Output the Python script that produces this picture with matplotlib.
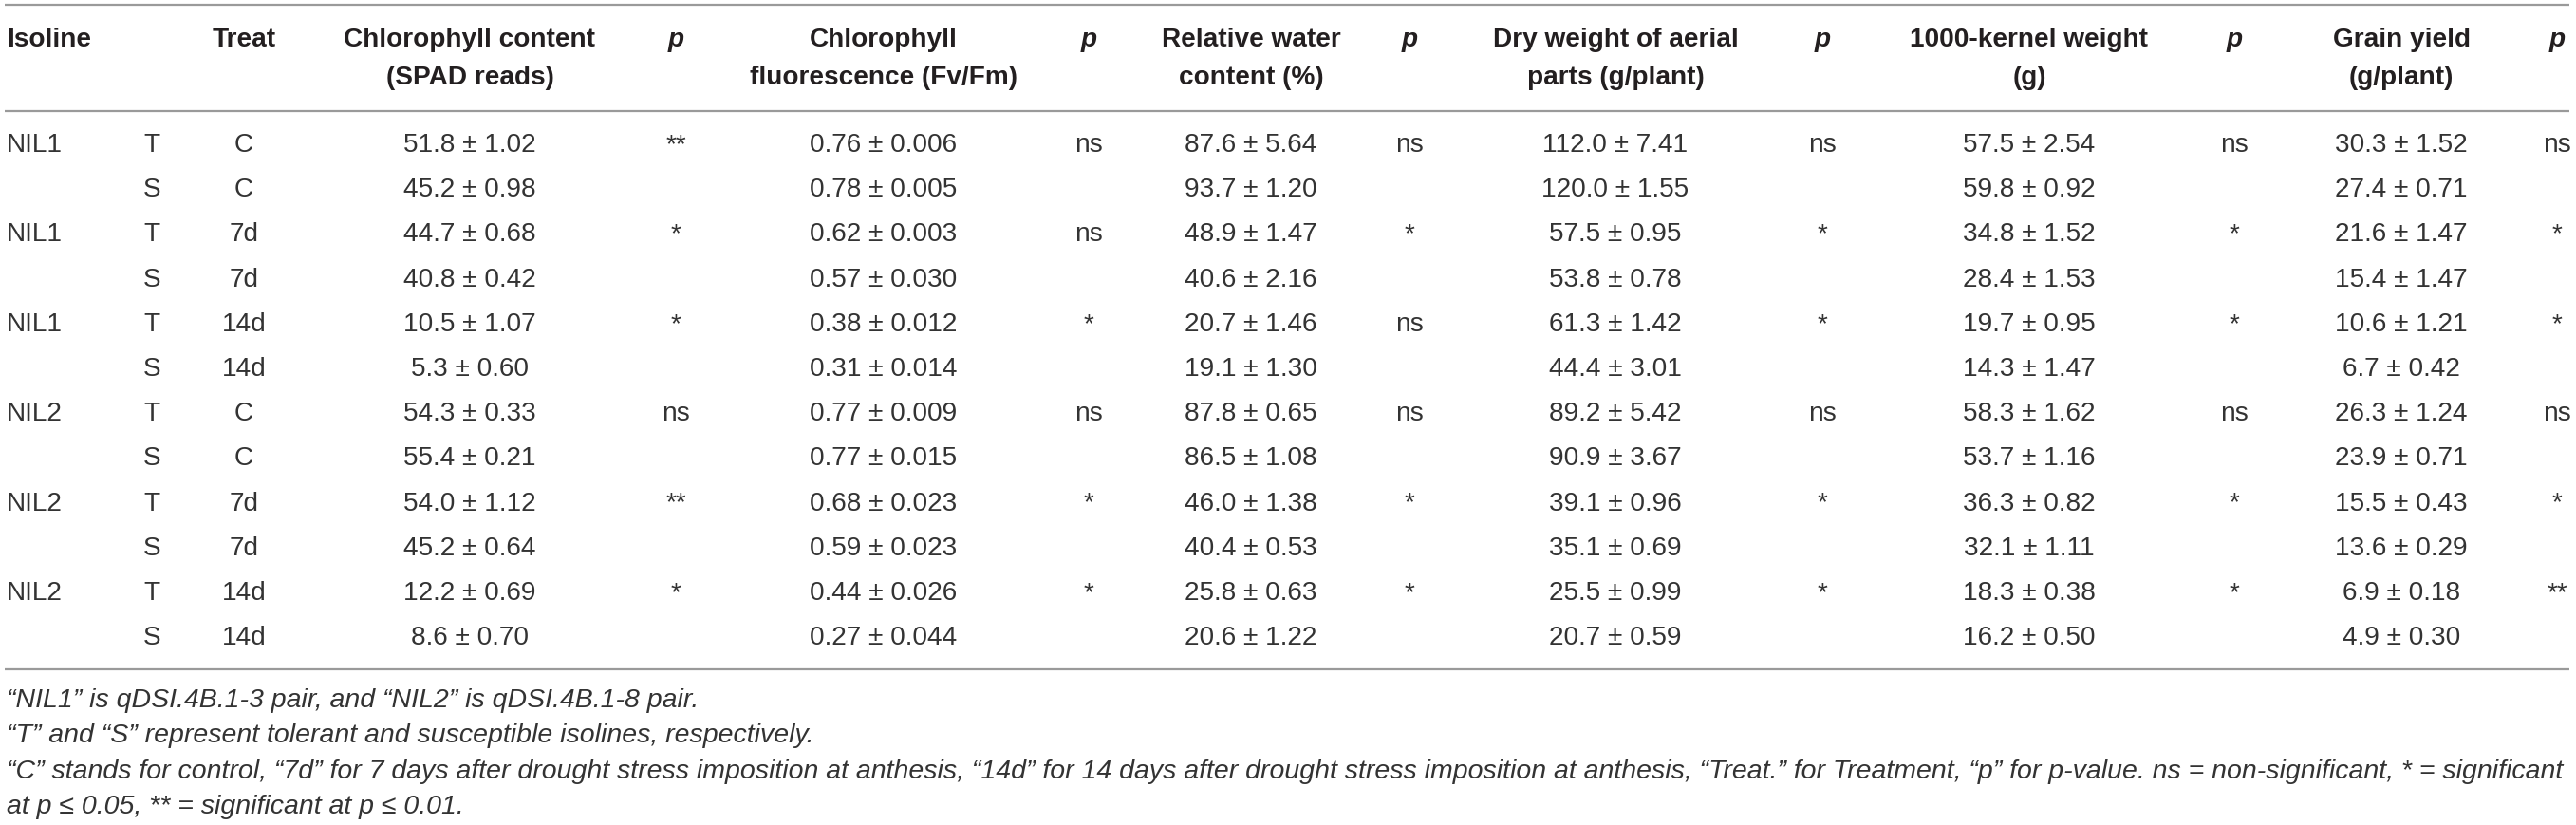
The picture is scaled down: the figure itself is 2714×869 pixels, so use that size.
import matplotlib
matplotlib.use("Agg")
import matplotlib.pyplot as plt

plt.rcParams['font.family'] = ['Liberation Sans', 'DejaVu Sans']

# table content
isoline = ["NIL1", "", "NIL1", "", "NIL1", "", "NIL2", "", "NIL2", "", "NIL2", ""]
line = ["T", "S"] * 6
treat = ["C", "C", "7d", "7d", "14d", "14d"] * 2

chl_mean = [51.8, 45.2, 44.7, 40.8, 10.5, 5.3, 54.3, 55.4, 54.0, 45.2, 12.2, 8.6]
chl_sd = [1.02, 0.98, 0.68, 0.42, 1.07, 0.60, 0.33, 0.21, 1.12, 0.64, 0.69, 0.70]
chl_p = ["**", "*", "*", "ns", "**", "*"]

fluo_mean = [0.76, 0.78, 0.62, 0.57, 0.38, 0.31, 0.77, 0.77, 0.68, 0.59, 0.44, 0.27]
fluo_sd = [0.006, 0.005, 0.003, 0.030, 0.012, 0.014, 0.009, 0.015, 0.023, 0.023, 0.026, 0.044]
fluo_p = ["ns", "ns", "*", "ns", "*", "*"]

rwc_mean = [87.6, 93.7, 48.9, 40.6, 20.7, 19.1, 87.8, 86.5, 46.0, 40.4, 25.8, 20.6]
rwc_sd = [5.64, 1.20, 1.47, 2.16, 1.46, 1.30, 0.65, 1.08, 1.38, 0.53, 0.63, 1.22]
rwc_p = ["ns", "*", "ns", "ns", "*", "*"]

dw_mean = [112.0, 120.0, 57.5, 53.8, 61.3, 44.4, 89.2, 90.9, 39.1, 35.1, 25.5, 20.7]
dw_sd = [7.41, 1.55, 0.95, 0.78, 1.42, 3.01, 5.42, 3.67, 0.96, 0.69, 0.99, 0.59]
dw_p = ["ns", "*", "*", "ns", "*", "*"]

tkw_mean = [57.5, 59.8, 34.8, 28.4, 19.7, 14.3, 58.3, 53.7, 36.3, 32.1, 18.3, 16.2]
tkw_sd = [2.54, 0.92, 1.52, 1.53, 0.95, 1.47, 1.62, 1.16, 0.82, 1.11, 0.38, 0.50]
tkw_p = ["ns", "*", "*", "ns", "*", "*"]

gy_mean = [30.3, 27.4, 21.6, 15.4, 10.6, 6.7, 26.3, 23.9, 15.5, 13.6, 6.9, 4.9]
gy_sd = [1.52, 0.71, 1.47, 1.47, 1.21, 0.42, 1.24, 0.71, 0.43, 0.29, 0.18, 0.30]
gy_p = ["ns", "*", "*", "ns", "*", "**"]

headers = [("Chlorophyll content", "(SPAD reads)"),
           ("Chlorophyll", "fluorescence (Fv/Fm)"),
           ("Relative water", "content (%)"),
           ("Dry weight of aerial", "parts (g/plant)"),
           ("1000-kernel weight", "(g)"),
           ("Grain yield", "(g/plant)")]

footnotes = [
    "\u201cNIL1\u201d is qDSI.4B.1-3 pair, and \u201cNIL2\u201d is qDSI.4B.1-8 pair.",
    "\u201cT\u201d and \u201cS\u201d represent tolerant and susceptible isolines, respectively.",
    "\u201cC\u201d stands for control, \u201c7d\u201d for 7 days after drought stress imposition at anthesis, "
    "\u201c14d\u201d for 14 days after drought stress imposition at anthesis, \u201cTreat.\u201d for Treatment, "
    "\u201cp\u201d for p-value. ns = non-significant, * = significant",
    "at p \u2264 0.05, ** = significant at p \u2264 0.01.",
]

traits = [(chl_mean, chl_sd, chl_p, 1, 2),
          (fluo_mean, fluo_sd, fluo_p, 2, 3),
          (rwc_mean, rwc_sd, rwc_p, 1, 2),
          (dw_mean, dw_sd, dw_p, 1, 2),
          (tkw_mean, tkw_sd, tkw_p, 1, 2),
          (gy_mean, gy_sd, gy_p, 1, 2)]

# layout (pixels)
W, H = 2714, 869
val_x = [495, 931, 1318, 1702, 2138, 2530]
p_x = [712, 1147, 1485, 1920, 2354, 2694]
row_y0, row_dy = 153, 47.2
fs = 20.2
txt = '#333333'
hdr = '#231f20'

fig = plt.figure(figsize=(W / 100, H / 100), dpi=100)
ax = fig.add_axes([0, 0, 1, 1])
ax.set_xlim(0, W)
ax.set_ylim(H, 0)
ax.axis('off')

for yy in (5, 117, 705):
    ax.plot([5, 2707], [yy, yy], color='#9a9a9a', lw=1.6, solid_capstyle='butt')

# header
ax.text(7, 42, "Isoline", ha='left', va='center', fontsize=fs, weight='bold', color=hdr)
ax.text(257, 42, "Treat", ha='center', va='center', fontsize=fs, weight='bold', color=hdr)
for (l1, l2), xv, xp in zip(headers, val_x, p_x):
    ax.text(xv, 42, l1, ha='center', va='center', fontsize=fs, weight='bold', color=hdr)
    ax.text(xv, 82, l2, ha='center', va='center', fontsize=fs, weight='bold', color=hdr)
    ax.text(xp, 42, "p", ha='center', va='center', fontsize=fs, weight='bold',
            style='italic', color=hdr)

# body
for i in range(12):
    y = row_y0 + i * row_dy
    ax.text(7, y, isoline[i], ha='left', va='center', fontsize=fs, color=txt)
    ax.text(160, y, line[i], ha='center', va='center', fontsize=fs, color=txt)
    ax.text(257, y, treat[i], ha='center', va='center', fontsize=fs, color=txt)
    for (m, s, p, dm, ds), xv, xp in zip(traits, val_x, p_x):
        ax.text(xv, y, f"{m[i]:.{dm}f} \u00b1 {s[i]:.{ds}f}", ha='center', va='center',
                fontsize=fs, color=txt)
        if i % 2 == 0:
            ax.text(xp, y, p[i // 2], ha='center', va='center', fontsize=fs, color=txt)

# footnotes: size chosen so the long third line spans the table width
notes = [ax.text(7, 738 + k * 37.3, note, ha='left', va='center', fontsize=17,
                 style='italic', color=txt) for k, note in enumerate(footnotes)]
fig.canvas.draw()
w3 = notes[2].get_window_extent().width
fs_note = 17 * (2706 - 7) / w3
for t in notes:
    t.set_fontsize(fs_note)

fig.savefig("out.png", dpi=100)
